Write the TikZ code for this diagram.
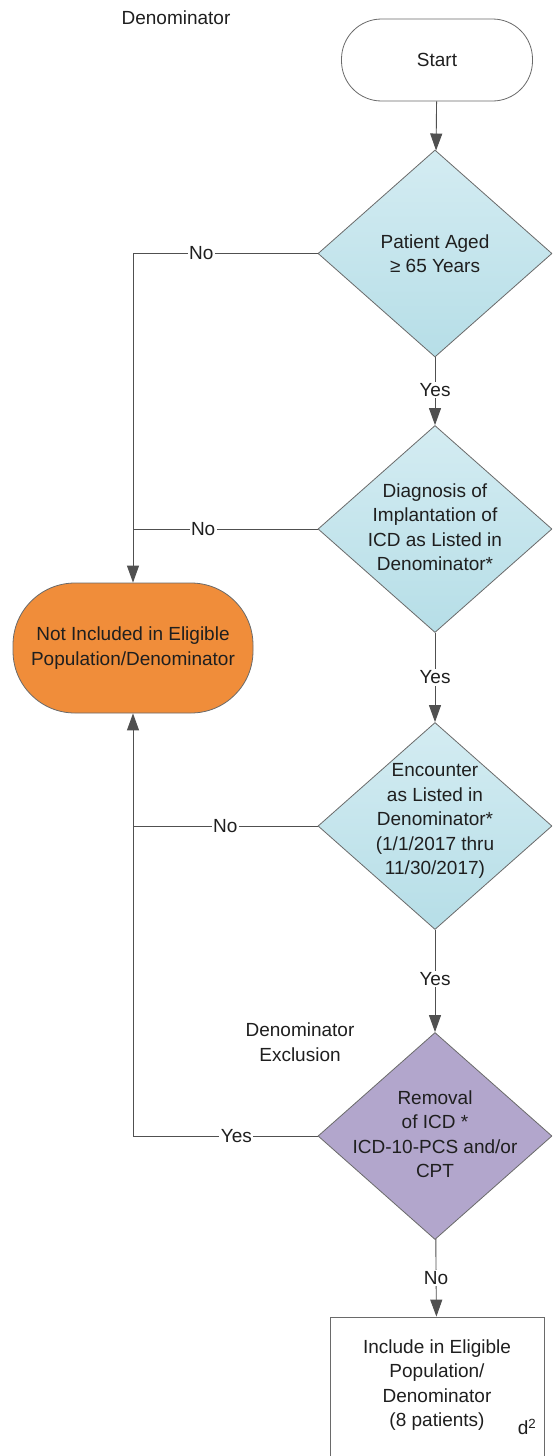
\documentclass[tikz,border=0pt]{standalone}
\usepackage{fontspec}
\setmainfont{Liberation Sans}
\usetikzlibrary{shapes.geometric}
\usetikzlibrary{arrows.meta}

\definecolor{lineGray}{RGB}{80,80,80}
\definecolor{diaTop}{RGB}{212,236,242}
\definecolor{diaBottom}{RGB}{182,222,231}
\definecolor{exclPurple}{RGB}{178,166,204}
\definecolor{notOrange}{RGB}{240,141,58}

\begin{document}
\begin{tikzpicture}[x=1pt, y=-1pt,
    every node/.style={font=\fontsize{19}{24.5}\selectfont, text=black!88},
    line/.style={draw=lineGray, line width=0.9pt},
    arrow/.style={line, -{Triangle[length=17pt,width=12pt]}},
    decision/.style={diamond, draw=lineGray!85, line width=0.8pt, inner sep=0pt,
        minimum width=234pt, minimum height=207pt},
    quest/.style={decision, top color=diaTop, bottom color=diaBottom},
    excl/.style={decision, fill=exclPurple},
    terminal/.style={draw=lineGray!85, line width=0.8pt, align=center},
    lbl/.style={fill=white, inner sep=1.5pt}]
        \clip (0,0) rectangle (552,1456);
        \fill[white] (0,0) rectangle (552,1456);
        \node (title) at (176,18) {Denominator};
        \node[terminal, rounded corners=40pt, minimum width=191pt, minimum height=82pt] (start) at (437,60) {Start};
        \node[quest] (d1) at (435,253.5) {};
        \node[quest] (d2) at (435,529) {};
        \node[quest] (d3) at (435,826) {};
        \node[excl] (d4) at (435,1136) {};
        \node[align=center] (t1) at (d1) {Patient Aged\\≥ 65 Years};
        \node[align=center] (t2) at (435,527) {Diagnosis of\\Implantation of\\ICD as Listed in\\Denominator*};
        \node[align=center] (t3) at (435,821) {Encounter\\as Listed in\\Denominator*\\(1/1/2017 thru\\11/30/2017)};
        \node[align=center] (t4) at (435,1134) {Removal\\of ICD *\\ICD-10-PCS and/or\\CPT};
        \node[align=center] (exlabel) at (300,1042) {Denominator\\Exclusion};
        \node[terminal, fill=notOrange, rounded corners=62pt, minimum width=240pt, minimum height=130pt] (notinc) at (133,648) {Not Included in Eligible\\Population/Denominator};
        \node[terminal, minimum width=214pt, minimum height=150pt] (incl) at (437,1392) {};
        \node[align=center] (inctext) at (437,1385) {Include in Eligible\\Population/\\Denominator\\(8 patients)};
        \node (dsq) at (527,1427) {d\textsuperscript{2}};
        \coordinate (j1) at (133,253.5);
        \coordinate (j2) at (133,529);
        \coordinate (j3) at (133,826);
        \coordinate (j4) at (133,1136);
        \draw[arrow] (start) -- (d1);
        \draw[arrow] (d1) -- node[lbl, pos=0.48]{Yes} (d2);
        \draw[arrow] (d2) -- node[lbl, pos=0.5]{Yes} (d3);
        \draw[arrow] (d3) -- node[lbl, pos=0.48]{Yes} (d4);
        \draw[arrow] (d4) -- node[lbl, pos=0.5]{No} (incl);
        \draw[arrow] (d1.west) -- node[lbl, pos=0.63]{No} (j1) -- (notinc.north);
        \draw[line] (d2.west) -- node[lbl, pos=0.62]{No} (j2);
        \draw[line] (d3.west) -- node[lbl, pos=0.5]{No} (j3);
        \draw[arrow] (d4.west) -- node[lbl, pos=0.44]{Yes} (j4) -- (notinc.south);
\end{tikzpicture}
\end{document}
